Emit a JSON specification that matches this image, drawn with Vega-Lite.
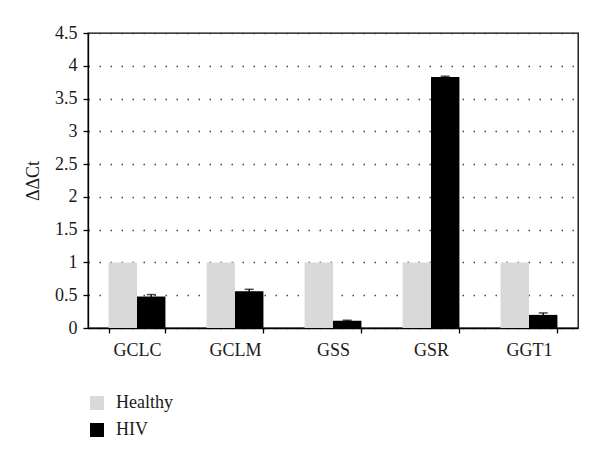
{
  "$schema": "https://vega.github.io/schema/vega-lite/v6.json",
  "width": 490,
  "height": 295,
  "autosize": {"type": "none"},
  "padding": {"left": 88, "top": 33, "right": 22, "bottom": 132},
  "background": "white",
  "config": {
    "view": {"stroke": "black", "strokeWidth": 1.3},
    "font": "Liberation Serif",
    "axis": {"labelFont": "Liberation Serif", "titleFont": "Liberation Serif", "labelColor": "#1a1a1a", "titleColor": "#1a1a1a"},
    "axisY": {
      "titleFontSize": 18, "titleFontWeight": "normal", "titlePadding": 12,
      "values": [0, 0.5, 1, 1.5, 2, 2.5, 3, 3.5, 4, 4.5], "format": ".1~f", "labelOverlap": false,
      "labelFontSize": 18, "labelPadding": 6, "tickSize": 5, "tickColor": "black", "tickWidth": 1.3,
      "domainColor": "black", "domainWidth": 1.3,
      "grid": true, "gridColor": "#444", "gridDash": [1.5, 9.5], "gridWidth": 1.5
    }
  },
  "data": {
    "values": [
      {"gene": "GCLC", "group": "Healthy", "value": 1.0, "err": 0},
      {"gene": "GCLC", "group": "HIV", "value": 0.48, "err": 0.03},
      {"gene": "GCLM", "group": "Healthy", "value": 1.0, "err": 0},
      {"gene": "GCLM", "group": "HIV", "value": 0.56, "err": 0.03},
      {"gene": "GSS", "group": "Healthy", "value": 1.0, "err": 0},
      {"gene": "GSS", "group": "HIV", "value": 0.11, "err": 0.01},
      {"gene": "GSR", "group": "Healthy", "value": 1.0, "err": 0},
      {"gene": "GSR", "group": "HIV", "value": 3.83, "err": 0.01},
      {"gene": "GGT1", "group": "Healthy", "value": 1.0, "err": 0},
      {"gene": "GGT1", "group": "HIV", "value": 0.2, "err": 0.03}
    ]
  },
  "transform": [
    {"calculate": "datum.value + datum.err", "as": "hi"},
    {"calculate": "datum.value - datum.err", "as": "lo"}
  ],
  "encoding": {
    "x": {
      "field": "gene", "type": "nominal", "sort": ["GCLC", "GCLM", "GSS", "GSR", "GGT1"],
      "scale": {"paddingInner": 0.42, "paddingOuter": 0.21},
      "axis": {"title": null, "labelAngle": 0, "labelFontSize": 18, "labelPadding": 8, "tickBand": "extent", "tickSize": 5, "tickColor": "black", "domainColor": "black", "domainWidth": 1.3, "tickWidth": 1.3}
    },
    "xOffset": {"field": "group", "type": "nominal", "sort": ["Healthy", "HIV"], "scale": {"paddingInner": 0, "paddingOuter": 0}}
  },
  "layer": [
    {
      "mark": {"type": "bar"},
      "encoding": {
        "y": {
          "field": "value", "type": "quantitative",
          "scale": {"domain": [0, 4.5], "nice": false},
          "axis": {"title": "ΔΔCt"}
        },
        "color": {
          "field": "group", "type": "nominal", "sort": ["Healthy", "HIV"],
          "scale": {"domain": ["Healthy", "HIV"], "range": ["#d9d9d9", "#000000"]},
          "legend": {
            "title": null, "orient": "none", "legendX": 0, "legendY": 361, "padding": 0,
            "symbolType": "square", "symbolSize": 196, "symbolStrokeWidth": 0,
            "labelFontSize": 18, "labelFont": "Liberation Serif", "labelColor": "#1a1a1a",
            "rowPadding": 9, "labelOffset": 10
          }
        }
      }
    },
    {
      "transform": [{"filter": "datum.err > 0"}],
      "mark": {"type": "rule", "color": "black", "strokeWidth": 1.3},
      "encoding": {
        "y": {"field": "lo", "type": "quantitative", "axis": {"title": "ΔΔCt"}},
        "y2": {"field": "hi"}
      }
    },
    {
      "transform": [{"filter": "datum.err > 0"}],
      "mark": {"type": "tick", "color": "black", "thickness": 1.5, "size": 9},
      "encoding": {
        "y": {"field": "hi", "type": "quantitative", "axis": {"title": "ΔΔCt"}}
      }
    }
  ]
}
